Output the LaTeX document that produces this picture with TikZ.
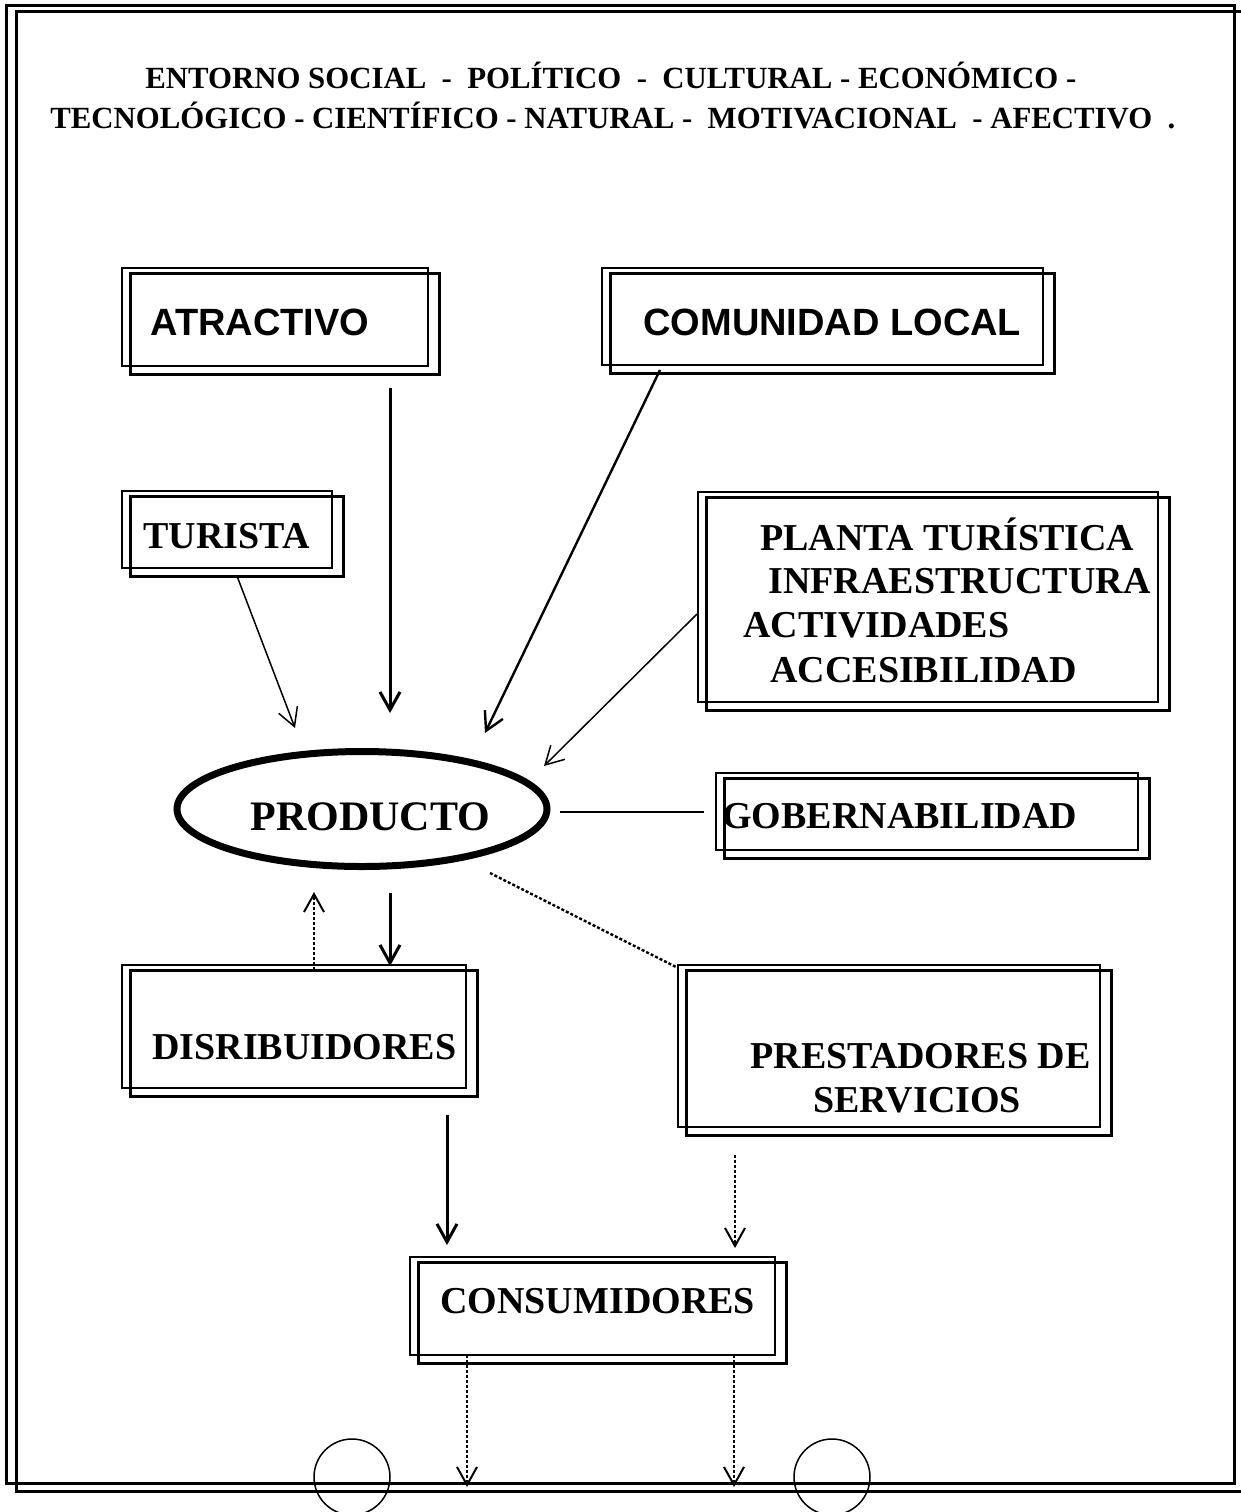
\documentclass[tikz,border=0pt]{standalone}
\usepackage{fontspec}
\setmainfont{Liberation Serif}
\newfontfamily\arialfont{Liberation Sans}
\usetikzlibrary{arrows.meta,shapes.geometric,fit}
\begin{document}
\begin{tikzpicture}[x=0.5pt,y=-0.5pt,
 frameline/.style={line width=1.5pt},
 boxline/.style={draw, line width=1.3pt},
 dbox/.style={boxline, rectangle, inner sep=0pt},
 txt/.style={inner sep=0pt, anchor=base west, font=\fontsize{19}{22}\selectfont\bfseries},
 stxt/.style={inner sep=0pt, anchor=base west, font=\fontsize{19}{22}\selectfont\arialfont\bfseries},
 ttl/.style={inner sep=0pt, anchor=base west, font=\fontsize{15.4}{18}\selectfont\bfseries},
 vhead/.style={-{Straight Barb[length=9pt,width=10pt]}},
 thickarr/.style={vhead, line width=1.5pt},
 midarr/.style={vhead, line width=1.2pt},
 thinarr/.style={vhead, line width=0.75pt},
 dotarr/.style={-{Straight Barb[length=9pt,width=10pt,line width=1pt]}, line width=0.9pt, dash pattern=on 1.5pt off 1pt},
 dotline/.style={line width=1.2pt, dash pattern=on 1.5pt off 1pt}
]
\useasboundingbox (0,0) rectangle (1241,1512);
\clip (0,0) rectangle (1241,1512);

% outer frame
\draw[frameline] (6,5) rectangle (1234,1483);
\draw[frameline] (16,11) rectangle (1260,1491);

% title
\node[ttl] (t1) at (145,88) {ENTORNO SOCIAL~~-~~POLÍTICO~~-~~CULTURAL - ECONÓMICO -};
\node[ttl] (t2) at (50,128) {TECNOLÓGICO - CIENTÍFICO - NATURAL -~~MOTIVACIONAL~~- AFECTIVO~~.};

% boxes
\node[dbox, fit={(122,268) (428,366)}] (atr) {};
\node[dbox, fit={(602,268) (1043,365)}] (com) {};
\node[dbox, fit={(122,491) (332,568)}] (tur) {};
\node[dbox, fit={(698,492) (1158,702)}] (pla) {};
\node[dbox, fit={(716,773) (1138,850)}] (gob) {};
\node[dbox, fit={(122,965) (466,1088)}] (dis) {};
\node[dbox, fit={(678,965) (1100,1127)}] (pre) {};
\node[dbox, fit={(410,1257) (775,1355)}] (con) {};
\foreach \n in {atr,com,tur,pla,gob,dis,pre,con}
  \draw[boxline] ([shift={(10,7)}]\n.north west) rectangle ([shift={(10,7)}]\n.south east);

% texts
\node[stxt] (tatr) at (150,335) {ATRACTIVO};
\node[stxt] (tcom) at (643,335) {COMUNIDAD LOCAL};
\node[txt] (ttur) at (143,548) {TURISTA};
\node[txt] (tp1) at (760,550) {PLANTA TURÍSTICA};
\node[txt] (tp2) at (768,593) {INFRAESTRUCTURA};
\node[txt] (tp3) at (743,637) {ACTIVIDADES};
\node[txt] (tp4) at (770,682) {ACCESIBILIDAD};
\node[txt] (tgob) at (722,828) {GOBERNABILIDAD};
\node[txt] (tdis) at (152,1059) {DISRIBUIDORES};
\node[txt] (tpre1) at (750,1068) {PRESTADORES DE};
\node[txt] (tpre2) at (813,1112) {SERVICIOS};
\node[txt] (tcon) at (440,1313) {CONSUMIDORES};

% producto
\node[ellipse, draw, line width=3.5pt, minimum width=185pt, minimum height=57.5pt, inner sep=0pt] (prod) at (362,809) {};
\node[inner sep=0pt, anchor=base west, font=\fontsize{21}{25}\selectfont\bfseries] (tprod) at (250,830) {PRODUCTO};

% bottom circles
\node[circle, draw, line width=0.75pt, minimum size=38pt, inner sep=0pt] (c1) at (352,1477) {};
\node[circle, draw, line width=0.75pt, minimum size=38pt, inner sep=0pt] (c2) at (832,1477) {};

% connector end points
\coordinate (atrS) at (390,388);   \coordinate (prodA) at (390,713);
\coordinate (comS) at (660,370);   \coordinate (prodC) at (485,733);
\coordinate (turS) at (237,576);   \coordinate (prodT) at (295,728);
\coordinate (plaS) at (697,614);   \coordinate (prodP) at (544,766);
\coordinate (prodG) at (560,812);  \coordinate (gobW) at (704,812);
\coordinate (prodD) at (390,893);  \coordinate (disN) at (390,966);
\coordinate (disU) at (314,970);   \coordinate (prodU) at (314,892);
\coordinate (prodR) at (490,873);  \coordinate (preN) at (678,968);
\coordinate (disS) at (447,1115);  \coordinate (conA) at (447,1245);
\coordinate (preS) at (735,1155);  \coordinate (conB) at (735,1248);
\coordinate (conS1) at (467,1355); \coordinate (out1) at (467,1487);
\coordinate (conS2) at (734,1355); \coordinate (out2) at (734,1487);

% connectors
\draw[thickarr] (atrS) -- (prodA);
\draw[midarr] (comS) -- (prodC);
\draw[thinarr] (turS) -- (prodT);
\draw[thinarr] (plaS) -- (prodP);
\draw[line width=0.75pt] (prodG) -- (gobW);
\draw[thickarr] (prodD) -- (disN);
\draw[dotarr] (disU) -- (prodU);
\draw[dotline] (prodR) -- (preN);
\draw[thickarr] (disS) -- (conA);
\draw[dotarr] (preS) -- (conB);
\draw[dotarr] (conS1) -- (out1);
\draw[dotarr] (conS2) -- (out2);
\end{tikzpicture}
\end{document}
